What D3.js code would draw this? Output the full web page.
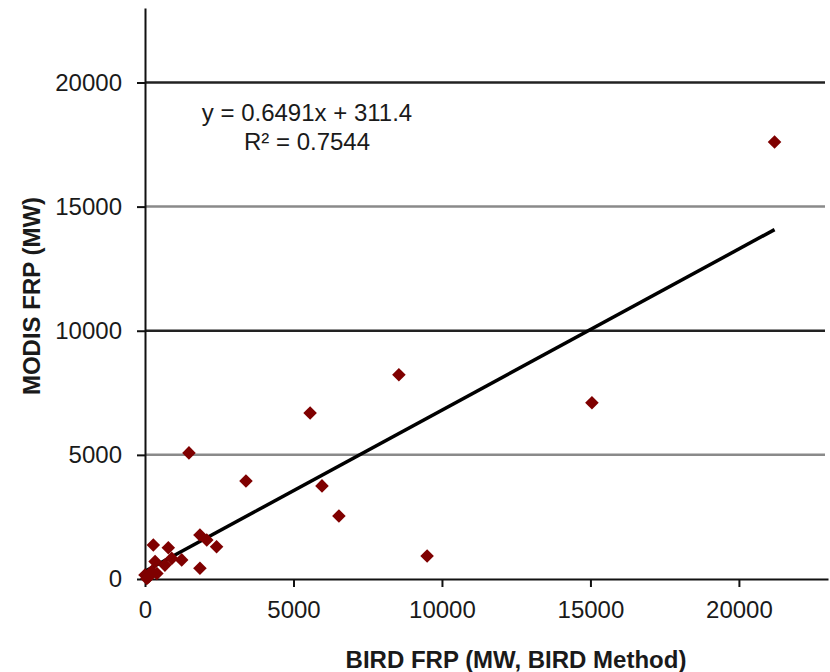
<!DOCTYPE html>
<html>
<head>
<meta charset="utf-8">
<script src="https://cdn.jsdelivr.net/npm/d3@7"></script>
<style>
  body { margin: 0; background: #fff; }
  text { font-family: "Liberation Sans", Arial, sans-serif; fill: #1a1a1a; }
</style>
</head>
<body>
<div id="chart"></div>
<script>
/* DATA */
const birdFRP = [21200, 8550, 5560, 15050, 1480, 3400, 5960, 6530, 9500,
  280, 785, 1850, 2080, 2410, 1235, 1850, 340, 670, 0, 60, 225, 900, 400, 120];
const modisFRP = [17600, 8230, 6690, 7100, 5080, 3950, 3750, 2540, 930,
  1370, 1260, 1770, 1570, 1300, 770, 430, 700, 560, 160, 20, 300, 830, 220, 80];
const tickValues = [0, 5000, 10000, 15000, 20000];
const slope = 0.6491, intercept = 311.4;
const eqLabels = ["y = 0.6491x + 311.4", "R\u00b2 = 0.7544"];

const width = 830, height = 672;
const margin = { top: 8, right: 2, bottom: 93, left: 145 };

const svg = d3.select("#chart").append("svg")
  .attr("width", width)
  .attr("height", height);

const xScale = d3.scaleLinear()
  .domain([0, 23000])
  .range([margin.left, width - margin.right]);

const yScale = d3.scaleLinear()
  .domain([0, 23000])
  .range([height - margin.bottom, margin.top]);

// gridlines (alternating dark / grey like the original)
svg.append("g")
  .selectAll("line")
  .data(tickValues.filter(d => d > 0))
  .join("line")
  .attr("x1", xScale(0))
  .attr("x2", 825)
  .attr("y1", d => yScale(d))
  .attr("y2", d => yScale(d))
  .attr("stroke", d => (d % 10000 === 0 ? "#222" : "#8a8a8a"))
  .attr("stroke-width", 2.5);

// axes
const fmt = d3.format("d");
const xAxis = d3.axisBottom(xScale).tickValues(tickValues).tickFormat(fmt)
  .tickSize(8).tickSizeOuter(0).tickPadding(14);
const yAxis = d3.axisLeft(yScale).tickValues(tickValues).tickFormat(fmt)
  .tickSize(8).tickSizeOuter(0).tickPadding(15);

const gx = svg.append("g")
  .attr("transform", `translate(0,${yScale(0)})`)
  .call(xAxis);
const gy = svg.append("g")
  .attr("transform", `translate(${xScale(0)},0)`)
  .call(yAxis);

[gx, gy].forEach(g => {
  g.select(".domain").attr("stroke", "#111").attr("stroke-width", 2);
  g.selectAll(".tick line").attr("stroke", "#111").attr("stroke-width", 2);
  g.selectAll(".tick text")
    .attr("font-size", 24)
    .attr("font-family", "Liberation Sans, Arial, sans-serif")
    .attr("fill", "#1a1a1a");
});

// trendline
const xMax = d3.max(birdFRP);
svg.append("line")
  .attr("x1", xScale(0))
  .attr("y1", yScale(intercept))
  .attr("x2", xScale(xMax))
  .attr("y2", yScale(slope * xMax + intercept))
  .attr("stroke", "#000")
  .attr("stroke-width", 3.5);

// points: excel style diamonds
const diamond = d3.symbol().type(d3.symbolSquare).size(92);
svg.append("g")
  .selectAll("path")
  .data(birdFRP.map((d, i) => ({ x: d, y: modisFRP[i] })))
  .join("path")
  .attr("d", diamond)
  .attr("transform", d => `translate(${xScale(d.x)},${yScale(d.y)}) rotate(45)`)
  .attr("fill", "#7f0000");

// equation
svg.append("g")
  .selectAll("text")
  .data(eqLabels)
  .join("text")
  .attr("x", 307)
  .attr("y", (d, i) => 121 + i * 29)
  .attr("text-anchor", "middle")
  .attr("font-size", 24)
  .text(d => d);

// axis titles
svg.append("text")
  .attr("x", 516)
  .attr("y", 668)
  .attr("text-anchor", "middle")
  .attr("font-size", 24)
  .attr("font-weight", "bold")
  .text("BIRD FRP (MW, BIRD Method)");

svg.append("text")
  .attr("transform", "translate(40,296) rotate(-90)")
  .attr("text-anchor", "middle")
  .attr("font-size", 24)
  .attr("font-weight", "bold")
  .text("MODIS FRP (MW)");
</script>
</body>
</html>
